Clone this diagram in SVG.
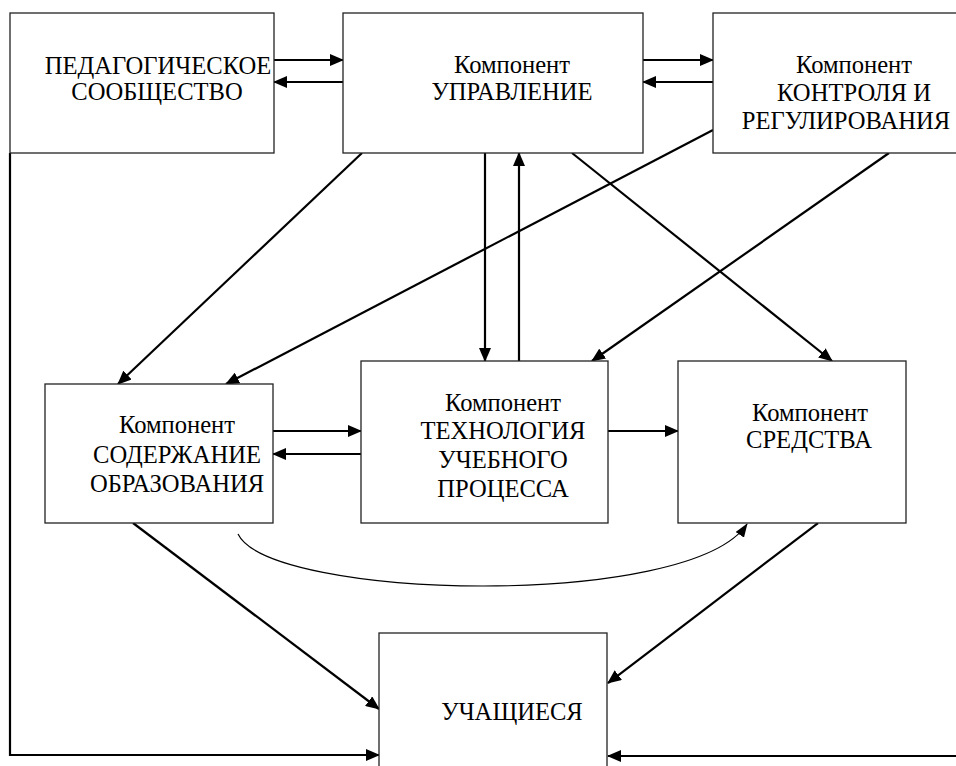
<svg xmlns="http://www.w3.org/2000/svg" width="956" height="766" viewBox="0 0 956 766">
<style>
.box{fill:#fff;stroke:#222;stroke-width:1.3}
text{font-family:'Liberation Serif','Times New Roman',serif;font-size:24.6px;fill:#000;text-anchor:middle}
.c{fill:none;stroke:#000;stroke-width:2.2}
.thin{fill:none;stroke:#000;stroke-width:1.2}
</style>
<defs>
<marker id="ah" markerUnits="userSpaceOnUse" markerWidth="14" markerHeight="12" refX="13" refY="6" orient="auto">
<path d="M0,0 L14,6 L0,12 Z" fill="#000"/>
</marker>
<marker id="ah2" markerUnits="userSpaceOnUse" markerWidth="14" markerHeight="10" refX="13" refY="5" orient="auto">
<path d="M0,0 L14,5 L0,10 Z" fill="#000"/>
</marker>
</defs>
<rect width="956" height="766" fill="#fff"/>
<g id="connectors">
<line class="c" x1="274" y1="60" x2="343" y2="60" marker-end="url(#ah)"/>
<line class="c" x1="343" y1="82" x2="274" y2="82" marker-end="url(#ah)"/>
<line class="c" x1="643" y1="60" x2="713" y2="60" marker-end="url(#ah)"/>
<line class="c" x1="713" y1="82" x2="643" y2="82" marker-end="url(#ah)"/>
<line class="c" x1="362" y1="153" x2="118" y2="384" marker-end="url(#ah)"/>
<line class="c" x1="713" y1="130" x2="226" y2="384" marker-end="url(#ah)"/>
<line class="c" x1="485" y1="153" x2="485" y2="361" marker-end="url(#ah)"/>
<line class="c" x1="519" y1="361" x2="519" y2="153" marker-end="url(#ah)"/>
<line class="c" x1="889" y1="153" x2="592" y2="361" marker-end="url(#ah)"/>
<line class="c" x1="572" y1="153" x2="832" y2="361" marker-end="url(#ah)"/>
<line class="c" x1="273" y1="431" x2="361" y2="431" marker-end="url(#ah)"/>
<line class="c" x1="361" y1="454" x2="273" y2="454" marker-end="url(#ah)"/>
<line class="c" x1="608" y1="431" x2="678" y2="431" marker-end="url(#ah)"/>
<path class="thin" d="M238,534 C270,600 690,610 747,524" marker-end="url(#ah2)"/>
<line class="c" x1="133" y1="523" x2="379" y2="709" marker-end="url(#ah)"/>
<line class="c" x1="818" y1="523" x2="608" y2="683" marker-end="url(#ah)"/>
<polyline class="c" points="10,153 10,755 379,755" marker-end="url(#ah)"/>
<line class="c" x1="956" y1="756" x2="608" y2="756" marker-end="url(#ah)"/>
</g>
<g id="pedagog">
<rect class="box" x="10" y="13" width="264" height="140"/>
<text x="158" y="74">ПЕДАГОГИЧЕСКОЕ</text>
<text x="157" y="100">СООБЩЕСТВО</text>
</g>
<g id="upravlenie">
<rect class="box" x="343" y="13" width="300" height="140"/>
<text x="512" y="73">Компонент</text>
<text x="512" y="100">УПРАВЛЕНИЕ</text>
</g>
<g id="kontrol">
<rect class="box" x="713" y="13" width="260" height="140"/>
<text x="854" y="73">Компонент</text>
<text x="854" y="101">КОНТРОЛЯ И</text>
<text x="846" y="129">РЕГУЛИРОВАНИЯ</text>
</g>
<g id="soderzhanie">
<rect class="box" x="45" y="384" width="228" height="139"/>
<text x="177" y="433">Компонент</text>
<text x="177" y="463">СОДЕРЖАНИЕ</text>
<text x="177" y="492">ОБРАЗОВАНИЯ</text>
</g>
<g id="tekhnologiya">
<rect class="box" x="361" y="361" width="247" height="162"/>
<text x="503" y="411">Компонент</text>
<text x="503" y="439">ТЕХНОЛОГИЯ</text>
<text x="503" y="468">УЧЕБНОГО</text>
<text x="503" y="497">ПРОЦЕССА</text>
</g>
<g id="sredstva">
<rect class="box" x="678" y="361" width="228" height="162"/>
<text x="810" y="421">Компонент</text>
<text x="809" y="448">СРЕДСТВА</text>
</g>
<g id="uchashchiesya">
<rect class="box" x="379" y="633" width="228" height="150"/>
<text x="512" y="720">УЧАЩИЕСЯ</text>
</g>
</svg>
